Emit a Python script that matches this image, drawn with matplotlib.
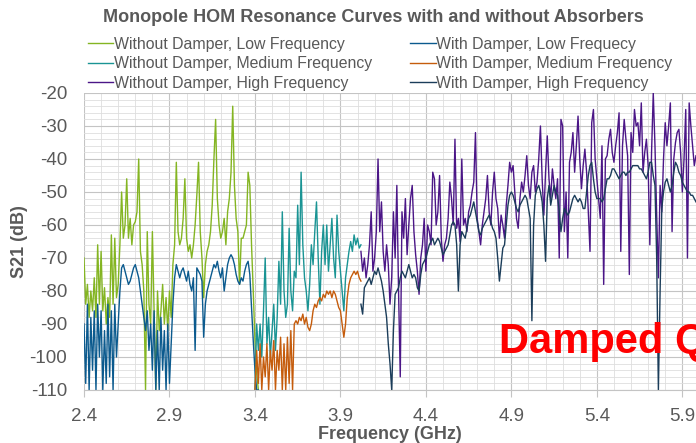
import numpy as np
import matplotlib
matplotlib.use('Agg')
import matplotlib.pyplot as plt

# =====================
# 1. DATA (S21 in dB, 0.01 GHz spacing)
# =====================
step = 0.01

low_start = 2.40
low_without = [
    -70, -84, -78, -88, -80, -86, -76, -88, -66, -84,
    -68, -86, -79, -90, -82, -88, -63, -84, -64, -82,
    -78, -66, -50, -64, -60, -46, -64, -58, -66, -60,
    -59, -56, -40, -68, -72, -80, -110, -62, -84, -90,
    -62, -86, -110, -80, -92, -86, -78, -90, -82, -92,
    -80, -88, -72, -66, -41, -62, -66, -64, -58, -46,
    -64, -68, -66, -70, -66, -60, -51, -41, -62, -70,
    -82, -72, -68, -66, -62, -54, -40, -28, -52, -60,
    -64, -62, -58, -66, -56, -52, -44, -24, -48, -58,
    -62, -78, -64, -64, -62, -60, -44, -48, -66, -80,
    -95, -105, -110,
]
low_with = [
    -90, -108, -84, -110, -88, -104, -86, -110, -84, -100,
    -86, -110, -92, -108, -84, -106, -86, -110, -84, -100,
    -90, -80, -73, -72, -74, -76, -78, -77, -75, -73,
    -72, -74, -76, -80, -84, -88, -92, -86, -98, -90,
    -104, -86, -110, -92, -110, -88, -104, -92, -110, -90,
    -108, -96, -84, -76, -72, -74, -76, -74, -73, -75,
    -77, -74, -78, -80, -76, -98, -73, -74, -75, -77,
    -94, -84, -80, -78, -76, -74, -72, -73, -71, -74,
    -76, -73, -80, -76, -72, -70, -69, -70, -72, -75,
    -77, -78, -76, -77, -74, -72, -71, -75, -85, -95,
    -104, -110, -110,
]

med_start = 3.40
med_without = [
    -110, -90, -98, -90, -100, -86, -70, -96, -88, -100,
    -92, -84, -98, -88, -71, -84, -56, -80, -88, -84,
    -61, -80, -86, -74, -76, -54, -72, -44, -66, -76,
    -80, -86, -78, -66, -72, -62, -53, -70, -84, -68,
    -60, -72, -60, -74, -66, -58, -70, -76, -57, -68,
    -74, -80, -86, -76, -72, -68, -65, -68, -63, -66,
    -64, -67, -66,
]
med_with = [
    -110, -98, -108, -96, -110, -100, -106, -96, -110, -98,
    -104, -95, -110, -98, -104, -94, -110, -96, -110, -94,
    -108, -92, -110, -90, -89, -90, -88, -89, -87, -90,
    -88, -91, -92, -90, -86, -84, -85, -83, -82, -83,
    -81, -82, -80, -81, -80, -82, -80, -81, -83, -85,
    -86, -90, -94, -90, -82, -78, -76, -75, -74, -75,
    -74, -76, -77,
]

high_start = 4.02
high_without = [
    -68, -74, -70, -76, -72, -66, -56, -74, -70, -62,
    -40, -62, -53, -68, -74, -66, -72, -84, -76, -56,
    -70, -48, -80, -106, -56, -64, -52, -69, -60, -52,
    -48, -62, -69, -74, -81, -70, -66, -58, -74, -60,
    -62, -66, -44, -46, -60, -56, -45, -64, -71, -66,
    -64, -58, -47, -52, -60, -34, -61, -58, -65, -40,
    -60, -58, -62, -56, -54, -50, -47, -32, -58, -62,
    -66, -60, -56, -52, -45, -56, -60, -50, -44, -52,
    -55, -64, -57, -60, -64, -54, -48, -41, -44, -42,
    -50, -58, -61, -52, -47, -50, -45, -39, -48, -52,
    -44, -42, -50, -47, -40, -30, -46, -57, -44, -33,
    -46, -52, -43, -48, -52, -46, -70, -28, -30, -62,
    -50, -70, -41, -38, -32, -44, -36, -27, -40, -49,
    -42, -37, -44, -56, -68, -29, -25, -40, -46, -52,
    -58, -36, -78, -40, -39, -34, -31, -38, -41, -36,
    -32, -26, -68, -36, -28, -34, -39, -75, -32, -38,
    -25, -30, -29, -36, -23, -44, -38, -34, -42, -66,
    -38, -20, -36, -57, -76, -48, -56, -40, -29, -36,
    -30, -23, -62, -40, -35, -32, -31, -38, -50, -40,
    -25, -70, -23, -30, -36, -42, -39,
]
high_with = [
    -84, -87, -79, -78, -77, -76, -78, -76, -74, -75,
    -73, -75, -77, -80, -84, -88, -96, -102, -110, -92,
    -81, -80, -79, -76, -74, -75, -76, -74, -72, -74,
    -76, -75, -76, -79, -80, -75, -72, -71, -70, -68,
    -66, -65, -64, -66, -65, -64, -65, -67, -69, -68,
    -67, -66, -63, -60, -59, -60, -66, -80, -66, -62,
    -63, -64, -61, -58, -57, -55, -53, -56, -59, -62,
    -63, -61, -60, -59, -58, -57, -59, -61, -62, -64,
    -70, -77, -72, -67, -66, -60, -54, -51, -50, -51,
    -53, -55, -56, -54, -53, -52, -51, -52, -55, -58,
    -89, -60, -51, -49, -48, -50, -53, -60, -71, -52,
    -48, -54, -51, -48, -50, -51, -56, -62, -58, -55,
    -56, -57, -56, -54, -52, -51, -52, -53, -52, -53,
    -55, -55, -50, -45, -42, -41, -46, -50, -52, -52,
    -52, -53, -52, -49, -46, -46, -45, -43, -43, -44,
    -45, -46, -45, -44, -44, -45, -44, -44, -43, -42,
    -42, -42, -42, -43, -43, -44, -45, -46, -44, -41,
    -41, -45, -48, -70, -110, -80, -55, -50, -47, -46,
    -48, -50, -48, -44, -41, -42, -44, -45, -47, -48,
    -49, -50, -50, -51, -51, -52, -53,
]

x_ticks = [2.4, 2.9, 3.4, 3.9, 4.4, 4.9, 5.4, 5.9]
y_ticks = [-110, -100, -90, -80, -70, -60, -50, -40, -30, -20]

labels = [
    "Without Damper, Low Frequency",
    "Without Damper, Medium Frequency",
    "Without Damper, High Frequency",
    "With Damper, Low Frequecy",
    "With Damper, Medium Frequency",
    "With Damper, High Frequency",
]
colors = ['#84b522', '#1a9494', '#4b1687', '#0b5a8e', '#c55c0c', '#1b3d5a']


def freqs(start, vals):
    return start + step * np.arange(len(vals))


# =====================
# 2. FIGURE
# =====================
plt.rcParams['font.family'] = ['Liberation Sans', 'DejaVu Sans']
plt.rcParams['axes.unicode_minus'] = False
grey = '#595959'

fig = plt.figure(figsize=(6.96, 4.43), dpi=100)
ax = fig.add_axes([84 / 696, 53 / 443, 1 - 84 / 696, 297 / 443])

lines = []
for start, vals, c, lab in [
    (low_start, low_without, colors[0], labels[0]),
    (low_start, low_with, colors[3], labels[3]),
    (med_start, med_without, colors[1], labels[1]),
    (med_start, med_with, colors[4], labels[4]),
    (high_start, high_without, colors[2], labels[2]),
    (high_start, high_with, colors[5], labels[5]),
]:
    ln, = ax.plot(freqs(start, vals), vals, color=c, lw=1.0, label=lab)
    lines.append(ln)

ax.set_xlim(2.4, 5.98)
ax.set_ylim(-110, -20)
ax.set_xticks(x_ticks)
ax.set_xticklabels([f"{t:.1f}" for t in x_ticks])
ax.set_xticks(np.arange(2.4, 6.0, 0.1), minor=True)
ax.set_yticks(y_ticks)
ax.set_yticks(np.arange(-110, -19, 2), minor=True)
ax.grid(which='major', color='#c4c4c4', lw=0.8)
ax.grid(which='minor', color='#dedede', lw=0.6)
ax.set_axisbelow(True)
for s in ['top', 'right', 'left']:
    ax.spines[s].set_visible(False)
ax.spines['bottom'].set_color('#c4c4c4')
ax.tick_params(which='both', length=0, labelsize=13.5, colors=grey)
ax.tick_params(axis='y', pad=12)
ax.tick_params(axis='x', which='major', length=5, color='#c4c4c4', pad=8)

ax.set_xlabel("Frequency (GHz)", fontsize=13, fontweight='bold', color=grey, labelpad=1)
ax.set_ylabel("S21 (dB)", fontsize=13, fontweight='bold', color=grey, labelpad=1)

fig.text(373 / 696, 1 - 17 / 443, "Monopole HOM Resonance Curves with and without Absorbers",
         ha='center', va='center', fontsize=13, fontweight='bold', color=grey)

order = [0, 2, 4, 1, 3, 5]
fig.legend([lines[i] for i in order], [lines[i].get_label() for i in order],
           ncol=2, loc='upper left', bbox_to_anchor=(80 / 696, 1 - 29 / 443),
           frameon=False, fontsize=11.4, handlelength=1.6, handletextpad=0.05,
           columnspacing=2.4, labelspacing=0.28, labelcolor=grey, borderpad=0)

ax.text(4.827, -98.8, "Damped Q", color='#ff0000', fontsize=30, fontweight='bold',
        va='baseline', ha='left', clip_on=False)

fig.savefig('out.png', dpi=100)
